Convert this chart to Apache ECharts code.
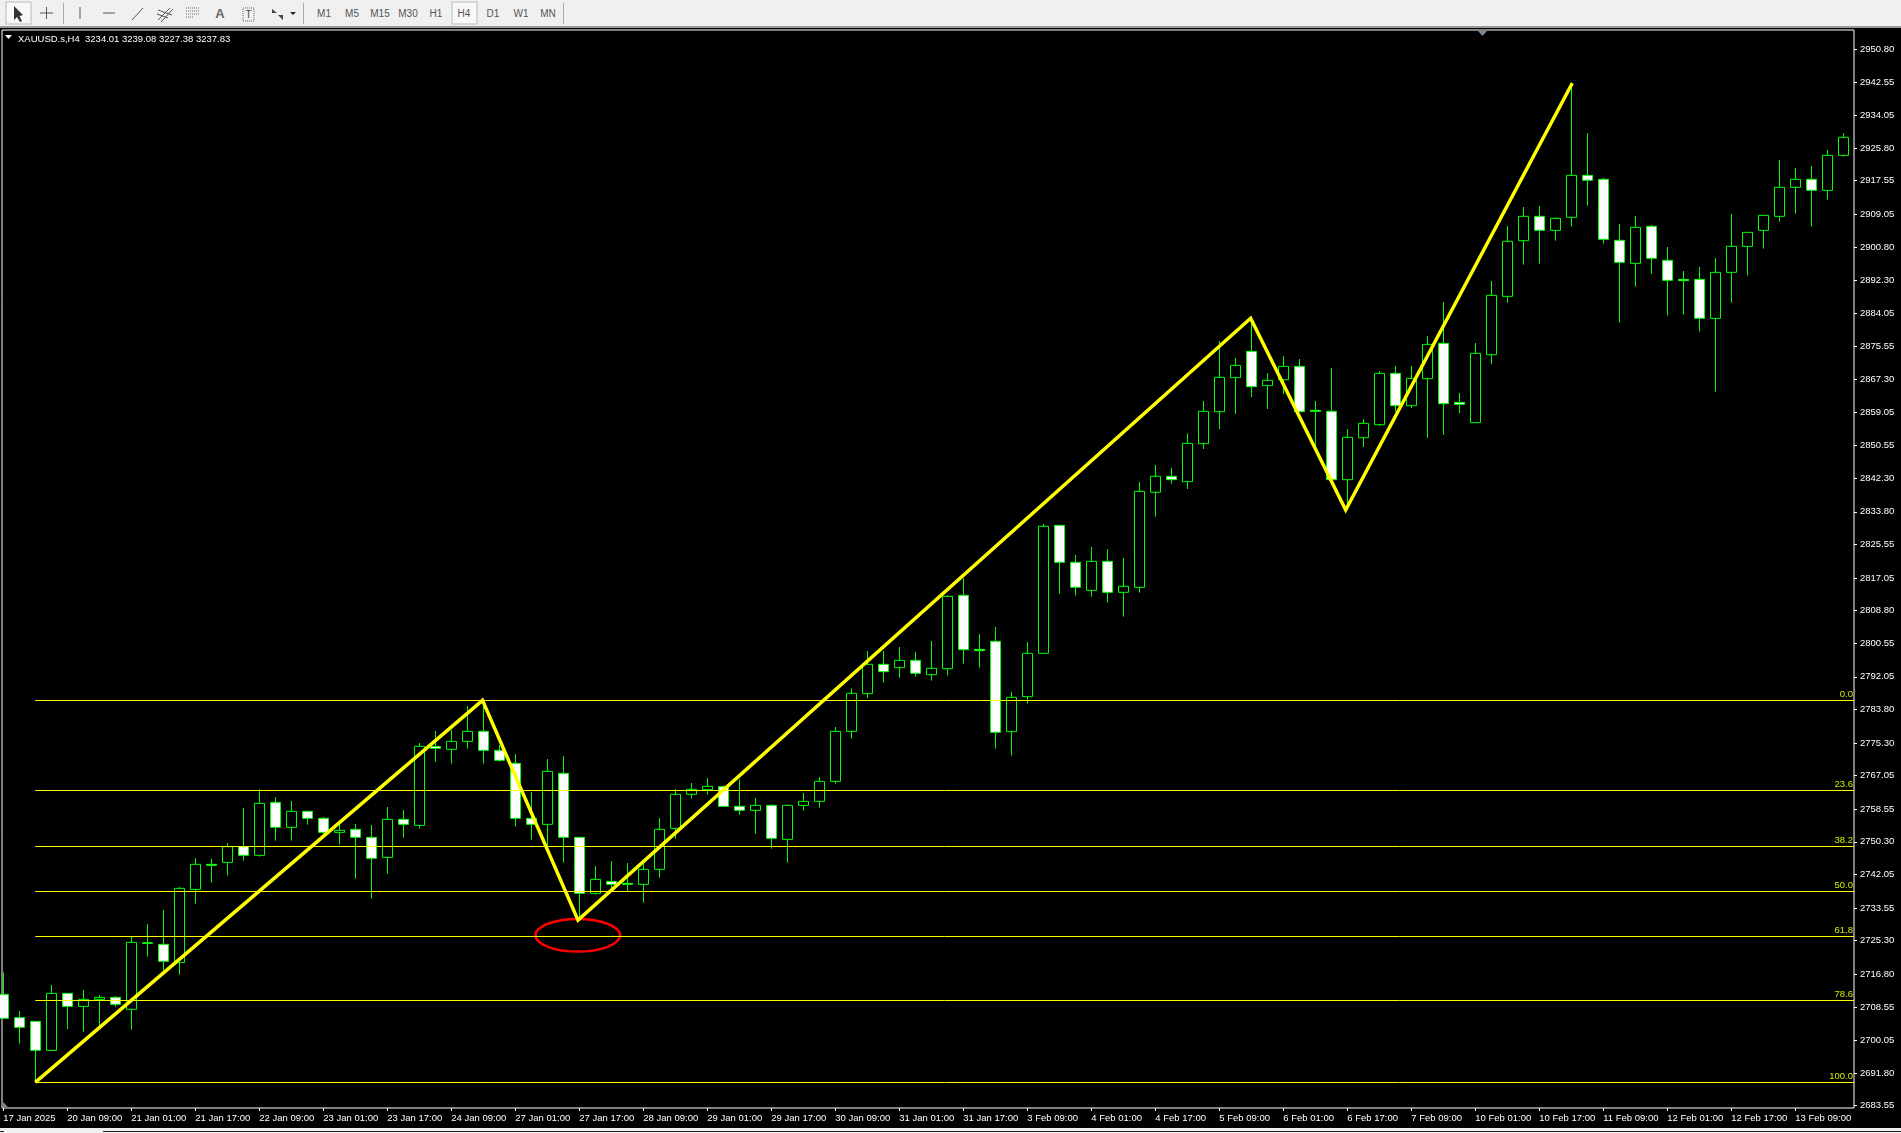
<!DOCTYPE html>
<html>
<head>
<meta charset="utf-8">
<title>XAUUSD.s,H4</title>
<script src="https://cdn.jsdelivr.net/npm/echarts@6/dist/echarts.min.js"></script>
<style>
  html, body { margin: 0; padding: 0; width: 1901px; height: 1133px; overflow: hidden; background: #000; }
  #main { position: absolute; left: 0; top: 0; width: 1901px; height: 1133px; }
  #toolbar { position: absolute; left: 0; top: 0; }
  #tabs { position: absolute; left: 0; top: 1128px; width: 1901px; height: 5px; background: #f0f0f0; }
  #tabs div { position: absolute; top: 3px; height: 1px; background: #222; }
</style>
</head>
<body>
<div id="main"></div>
<svg id="toolbar" width="1901" height="28" font-family="'Liberation Sans',sans-serif" font-size="10" fill="#555">
  <rect width="1901" height="26" fill="#f0f0f0"/>
  <rect y="26" width="1901" height="2" fill="#9a9a9a"/>
  <rect x="6" y="2" width="25" height="22" fill="#f8f8f8" stroke="#bbb"/>
  <path d="M14 6 L14 20 L17 17 L20 22 L22 21 L19.500 16 L23 15 Z" fill="#333"/>
  <path d="M46.500 7 V19 M40 13 H53 M80 7 V19 M103 13 H115 M132 20 L143 8" stroke="#555" fill="none"/>
  <path d="M63.500 3 V24 M303.500 3 V24 M563.500 3 V24" stroke="#aaa"/>
  <path d="M158 20 L170 8 M161 22 L173 9 M157 14 L168 18 M158 10 L172 15" stroke="#555" fill="none"/>
  <path d="M186 8 H199 M186 11 H199 M186 14 H199 M186 17 H194" stroke="#666" stroke-dasharray="1 1" fill="none"/>
  <text x="220" y="18" text-anchor="middle" font-size="13" font-weight="bold" fill="#666">A</text>
  <rect x="243" y="8" width="11" height="13" fill="none" stroke="#666" stroke-dasharray="1 1"/>
  <text x="248.500" y="18" text-anchor="middle" fill="#444">T</text>
  <path d="M272 9 L277 13 L272 13 Z M278 15 L283 15 L283 20 Z" fill="#444"/>
  <path d="M290 12 H296 L293 15 Z" fill="#222"/>
  <rect x="452" y="2" width="25" height="22" fill="#f8f8f8" stroke="#bbb"/>
  <g text-anchor="middle">
    <text x="324" y="17">M1</text>
    <text x="352" y="17">M5</text>
    <text x="380" y="17">M15</text>
    <text x="408" y="17">M30</text>
    <text x="436" y="17">H1</text>
    <text x="464" y="17">H4</text>
    <text x="493" y="17">D1</text>
    <text x="521" y="17">W1</text>
    <text x="548" y="17">MN</text>
  </g>
</svg>
<div id="tabs"><div style="left:0;width:4px"></div><div style="left:103px;width:1798px"></div></div>
<script>
// H4 bars (oldest first)
const openPrices = [
  2711.72, 2705.82, 2704.89, 2697.55, 2711.97, 2708.68, 2710.46, 2710.96, 2707.93, 2724.79,
  2724.37, 2719.82, 2738.28, 2744.61, 2745.11, 2749.08, 2746.88, 2760.29, 2753.97, 2758.02,
  2756.24, 2752.70, 2753.46, 2751.44, 2746.38, 2755.99, 2754.47, 2774.46, 2773.70, 2775.72,
  2778.25, 2773.45, 2770.16, 2756.24, 2754.73, 2767.63, 2751.44, 2737.27, 2740.31, 2739.80,
  2739.55, 2743.34, 2753.71, 2762.32, 2763.50, 2764.26, 2759.28, 2758.27, 2759.53, 2750.93,
  2759.53, 2760.55, 2765.60, 2778.25, 2787.79, 2795.21, 2794.36, 2796.22, 2792.59, 2794.11,
  2812.66, 2799.00, 2801.03, 2778.17, 2787.03, 2797.99, 2830.37, 2821.01, 2813.93, 2821.26,
  2813.42, 2814.69, 2838.73, 2842.78, 2841.41, 2851.03, 2859.12, 2867.72, 2874.38, 2865.70,
  2867.22, 2870.59, 2859.46, 2859.21, 2841.92, 2852.54, 2855.83, 2868.82, 2860.64, 2867.47,
  2876.41, 2861.48, 2856.34, 2873.54, 2888.30, 2902.38, 2908.54, 2905.00, 2908.29, 2918.91,
  2917.90, 2902.47, 2896.65, 2906.01, 2897.41, 2892.60, 2892.60, 2882.74, 2894.37, 2900.95,
  2905.00, 2908.54, 2915.88, 2917.90, 2915.12, 2923.97
];
const closePrices = [
  2705.65, 2703.37, 2697.55, 2711.97, 2708.68, 2710.46, 2710.96, 2709.19, 2724.87, 2724.62,
  2720.07, 2738.54, 2744.61, 2744.35, 2749.08, 2746.88, 2760.04, 2753.97, 2758.02, 2756.24,
  2752.70, 2753.21, 2751.44, 2746.13, 2755.99, 2754.73, 2774.46, 2773.95, 2775.72, 2778.25,
  2773.45, 2770.92, 2756.24, 2754.73, 2768.13, 2751.44, 2737.27, 2740.81, 2739.55, 2739.55,
  2743.34, 2753.46, 2762.32, 2763.58, 2764.34, 2759.28, 2758.27, 2759.53, 2751.18, 2759.53,
  2760.55, 2765.60, 2778.25, 2787.87, 2795.21, 2793.35, 2796.22, 2792.93, 2794.20, 2812.41,
  2798.92, 2798.66, 2778.00, 2786.86, 2797.99, 2830.12, 2821.01, 2814.69, 2821.26, 2813.42,
  2814.94, 2838.97, 2842.78, 2841.92, 2851.11, 2859.21, 2867.81, 2870.84, 2865.45, 2867.05,
  2870.59, 2859.12, 2859.21, 2841.92, 2852.63, 2856.17, 2868.82, 2860.64, 2867.55, 2876.15,
  2861.14, 2860.98, 2873.88, 2888.55, 2902.22, 2908.54, 2905.00, 2908.03, 2918.91, 2917.65,
  2902.72, 2896.90, 2905.76, 2897.92, 2892.35, 2892.27, 2882.74, 2894.37, 2900.95, 2904.49,
  2908.79, 2915.88, 2917.90, 2915.12, 2923.97, 2928.53
];
const lowPrices = [
  2705.65, 2699.24, 2689.46, 2697.55, 2702.95, 2702.28, 2703.54, 2708.60, 2702.78, 2721.25,
  2717.71, 2716.69, 2734.66, 2739.97, 2741.74, 2745.53, 2746.55, 2750.59, 2750.59, 2754.64,
  2751.61, 2749.58, 2740.98, 2735.92, 2742.25, 2751.35, 2753.63, 2770.58, 2770.07, 2773.87,
  2770.07, 2770.58, 2754.14, 2750.85, 2749.08, 2745.03, 2731.20, 2736.93, 2738.11, 2737.86,
  2734.91, 2741.23, 2751.10, 2761.22, 2762.23, 2759.28, 2757.17, 2752.37, 2748.57, 2745.03,
  2758.18, 2758.94, 2765.01, 2776.40, 2786.69, 2790.57, 2791.83, 2792.09, 2791.08, 2792.34,
  2795.38, 2794.36, 2773.87, 2772.10, 2785.26, 2797.99, 2813.08, 2812.58, 2812.33, 2810.81,
  2807.27, 2813.34, 2832.55, 2840.90, 2839.56, 2849.68, 2854.74, 2858.53, 2862.83, 2859.80,
  2863.59, 2859.12, 2849.42, 2841.92, 2834.24, 2850.18, 2855.49, 2859.12, 2860.05, 2852.46,
  2853.22, 2858.78, 2856.34, 2871.18, 2886.70, 2896.31, 2896.57, 2902.38, 2905.93, 2911.24,
  2901.63, 2881.64, 2890.75, 2894.04, 2883.41, 2883.66, 2879.36, 2864.18, 2886.70, 2893.53,
  2900.36, 2907.19, 2909.22, 2905.93, 2912.76, 2923.64
];
const highPrices = [
  2717.29, 2707.50, 2704.89, 2714.08, 2711.97, 2712.82, 2711.55, 2711.30, 2726.31, 2729.51,
  2733.05, 2738.87, 2746.21, 2745.96, 2750.00, 2758.86, 2763.58, 2761.64, 2760.63, 2758.02,
  2756.58, 2755.49, 2754.81, 2754.56, 2759.11, 2758.35, 2775.30, 2778.34, 2778.59, 2784.66,
  2785.34, 2774.80, 2772.52, 2762.91, 2771.25, 2772.01, 2751.44, 2744.19, 2745.45, 2744.94,
  2744.86, 2756.33, 2763.67, 2765.18, 2766.45, 2764.59, 2766.11, 2761.39, 2759.79, 2759.79,
  2762.65, 2766.70, 2779.35, 2789.13, 2798.58, 2798.58, 2799.59, 2798.33, 2801.11, 2812.66,
  2816.96, 2802.88, 2804.65, 2788.21, 2800.86, 2830.71, 2830.37, 2822.87, 2824.89, 2824.38,
  2822.11, 2841.33, 2845.63, 2844.88, 2853.64, 2861.82, 2877.00, 2872.70, 2882.73, 2868.90,
  2873.20, 2872.44, 2861.82, 2870.17, 2854.74, 2857.27, 2869.41, 2870.67, 2870.67, 2878.26,
  2886.86, 2863.84, 2876.49, 2892.18, 2906.10, 2910.90, 2911.15, 2908.29, 2942.44, 2929.62,
  2918.24, 2906.60, 2908.62, 2906.35, 2900.78, 2894.71, 2895.72, 2898.00, 2909.13, 2904.49,
  2908.79, 2922.79, 2920.77, 2921.27, 2925.32, 2929.62
];

// time labels, one every 4 bars
const timeLabels = [
  '17 Jan 2025', '20 Jan 09:00', '21 Jan 01:00', '21 Jan 17:00', '22 Jan 09:00', '23 Jan 01:00',
  '23 Jan 17:00', '24 Jan 09:00', '27 Jan 01:00', '27 Jan 17:00', '28 Jan 09:00', '29 Jan 01:00',
  '29 Jan 17:00', '30 Jan 09:00', '31 Jan 01:00', '31 Jan 17:00', '3 Feb 09:00', '4 Feb 01:00',
  '4 Feb 17:00', '5 Feb 09:00', '6 Feb 01:00', '6 Feb 17:00', '7 Feb 09:00', '10 Feb 01:00',
  '10 Feb 17:00', '11 Feb 09:00', '12 Feb 01:00', '12 Feb 17:00', '13 Feb 09:00'
];
const priceTicks = [
  2950.80, 2942.55, 2934.05, 2925.80, 2917.55, 2909.05, 2900.80, 2892.30, 2884.05, 2875.55, 2867.30,
  2859.05, 2850.55, 2842.30, 2833.80, 2825.55, 2817.05, 2808.80, 2800.55, 2792.05, 2783.80, 2775.30,
  2767.05, 2758.55, 2750.30, 2742.05, 2733.55, 2725.30, 2716.80, 2708.55, 2700.05, 2691.80, 2683.55
];

// fibo retracement
const fibLabels = ['0.0', '23.6', '38.2', '50.0', '61.8', '78.6', '100.0'];
const fibPrices = [2786.10, 2763.30, 2749.16, 2737.78, 2726.40, 2710.20, 2689.47];

// hand drawn zigzag (bar position, price)
const zigzagBars = [2, 29.95, 35.92, 77.96, 83.9, 98.06];
const zigzagPrices = [2689.47, 2786.1, 2730.5, 2882.75, 2834.25, 2942.2];

// red ellipse: centre bar, centre price, half width in bars, half height in price
const ellipseMark = [35.9, 2726.66, 2.64, 4.13];

const BAR_MIN = -0.081, BAR_MAX = 115.67;
const FONT = "'Liberation Sans',sans-serif";
const FONT_SIZE = 9.5;

var myChart = echarts.init(document.getElementById('main'), null, { renderer: 'canvas' });

myChart.setOption({
  animation: false,
  backgroundColor: '#000',
  grid: {
    show: true, left: 2, right: 47, top: 30, bottom: 25,
    outerBoundsMode: 'none',
    borderColor: '#fff', borderWidth: 1, backgroundColor: '#000'
  },
  xAxis: {
    type: 'value', min: BAR_MIN, max: BAR_MAX, position: 'bottom',
    splitLine: { show: false },
    axisLine: { show: false, onZero: false },
    axisTick: { show: true, length: 3, lineStyle: { color: '#fff' }, customValues: timeLabels.map((t, i) => i * 4) },
    axisLabel: {
      color: '#fff', fontFamily: FONT, fontSize: FONT_SIZE, margin: 5, align: 'left',
      showMinLabel: true, showMaxLabel: true, hideOverlap: false,
      customValues: timeLabels.map((t, i) => i * 4),
      formatter: (v) => timeLabels[Math.round(v / 4)]
    }
  },
  yAxis: {
    type: 'value', min: 2682.97, max: 2955.68, position: 'right', scale: true,
    splitLine: { show: false },
    axisLine: { show: false, onZero: false },
    axisTick: { show: true, length: 3, lineStyle: { color: '#fff' }, customValues: priceTicks },
    axisLabel: {
      color: '#fff', fontFamily: FONT, fontSize: FONT_SIZE, margin: 6,
      showMinLabel: true, showMaxLabel: true,
      padding: [2, 0, 0, 0],
      customValues: priceTicks,
      formatter: (v) => v.toFixed(2)
    }
  },
  graphic: [
    { type: 'polygon', silent: true, shape: { points: [[5, 35], [12, 35], [8.5, 39]] }, style: { fill: '#fff' } },
    { type: 'text', silent: true, x: 18, y: 34, style: { text: 'XAUUSD.s,H4  3234.01 3239.08 3227.38 3237.83', fill: '#fff', font: "9.5px 'Liberation Sans',sans-serif" } },
    { type: 'polygon', silent: true, shape: { points: [[1478, 31], [1487, 31], [1482.5, 36]] }, style: { fill: '#778899' } },
    { type: 'polygon', silent: true, shape: { points: [[3, 1102], [3, 1107], [8, 1107]] }, style: { fill: '#778899' } }
  ],
  series: [
    {
      type: 'candlestick',
      data: openPrices.map((o, i) => [i, o, closePrices[i], lowPrices[i], highPrices[i]]),
      encode: { x: 0, y: [1, 2, 3, 4] },
      barWidth: 10,
      clip: true,
      silent: true,
      itemStyle: {
        color: '#000', color0: '#fff',
        borderColor: '#00ff00', borderColor0: '#00ff00', borderColorDoji: '#00ff00',
        borderWidth: 1
      }
    },
    {
      type: 'line',
      data: zigzagBars.map((b, i) => [b, zigzagPrices[i]]),
      symbol: 'none',
      silent: true,
      lineStyle: { color: '#ffff00', width: 3.5, join: 'miter' },
      markLine: {
        silent: true,
        symbol: 'none',
        animation: false,
        lineStyle: { color: '#ffff00', width: 1, type: 'solid' },
        label: { position: 'insideEndTop', distance: 1, color: '#d8e800', fontFamily: FONT, fontSize: FONT_SIZE, formatter: '{b}' },
        emphasis: { disabled: true },
        data: fibPrices.map((p, i) => [
          { name: fibLabels[i], coord: [zigzagBars[0], p] },
          { coord: [BAR_MAX, p] }
        ])
      }
    },
    {
      type: 'custom',
      silent: true,
      data: [ellipseMark],
      encode: { x: 0, y: 1 },
      renderItem: function (params, api) {
        const c = api.coord([api.value(0), api.value(1)]);
        const e = api.coord([api.value(0) + api.value(2), api.value(1) + api.value(3)]);
        return {
          type: 'ellipse',
          shape: { cx: c[0], cy: c[1], rx: e[0] - c[0], ry: c[1] - e[1] },
          style: { fill: 'none', stroke: '#ff0000', lineWidth: 2.5 }
        };
      }
    }
  ]
});
</script>
</body>
</html>
